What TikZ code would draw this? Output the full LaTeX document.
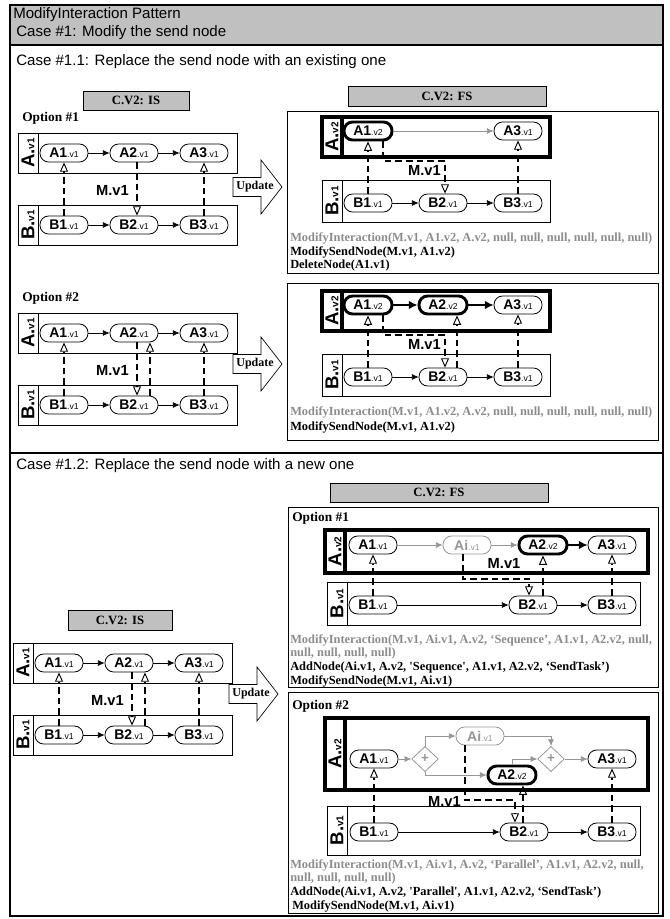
\documentclass[tikz,border=0pt]{standalone}
\usepackage{fontspec}
\setmainfont{Liberation Serif}
\newfontfamily\arial{Liberation Sans}
\usetikzlibrary{arrows.meta,shapes.geometric,calc}
\definecolor{hdr}{RGB}{192,192,192}
\definecolor{gl}{RGB}{150,150,150}
\definecolor{gt}{RGB}{140,140,140}
\newcommand\nl[2]{{\fontsize{10.5}{11}\selectfont\bfseries #1}{\fontsize{6.5}{7}\selectfont .#2}}
\newcommand\pn[2]{{\fontsize{14}{14}\selectfont #1.}{\fontsize{7.5}{8}\selectfont #2}}
\tikzset{
  task/.style={draw, rounded corners=6.5pt, fill=white, minimum width=36pt, minimum height=13.5pt, inner sep=1pt, line width=0.6pt, font=\arial},
  ttask/.style={task, line width=2.2pt},
  gtask/.style={task, draw=gl, text=gl},
  gw/.style={diamond, draw=gl, text=gl, fill=white, minimum width=20pt, minimum height=19pt, inner sep=0pt, line width=0.6pt, font=\arial\bfseries\fontsize{10}{10}\selectfont},
  seq/.style={line width=0.5pt, -{Latex[length=5pt,width=4.5pt]}},
  gseq/.style={seq, draw=gl},
  bseq/.style={line width=1.8pt, -{Latex[length=6.5pt,width=6.5pt]}},
  msg/.style={line width=1.5pt, dash pattern=on 5pt off 3pt, -{Triangle[open, length=7pt, width=6pt, line width=0.7pt]}},
  pool/.style={draw, line width=0.6pt},
  tpool/.style={draw, line width=2.6pt},
  pl/.style={rotate=90, font=\arial\bfseries, inner sep=0pt},
  lbl/.style={font=\arial\bfseries\fontsize{11}{12}\selectfont, inner sep=0pt},
  cmd/.style={font=\bfseries\fontsize{9.3}{10}\selectfont, anchor=west, inner sep=0pt},
  gcmd/.style={cmd, text=gt},
  opt/.style={font=\bfseries\fontsize{10}{12}\selectfont, anchor=west, inner sep=0pt},
  ttl/.style={font=\arial\fontsize{11.3}{13}\selectfont, anchor=west, inner sep=0pt},
  cbox/.style={font=\bfseries\fontsize{9.5}{11}\selectfont, inner sep=0pt},
}
\newcommand\upd[3]{%
  \draw[fill=white, line width=0.5pt] (#2,#3) ++(0,-9.5) -- ++(28,0) -- ++(0,-17.5) -- ++(21,27) -- ++(-21,27) -- ++(0,-17.5) -- ++(-28,0) -- cycle;
  \node[font=\bfseries\fontsize{9}{10}\selectfont, inner sep=0pt] (#1) at ({#2+22},#3) {Update};}
\begin{document}
\begin{tikzpicture}[x=0.75pt,y=-0.75pt]
\useasboundingbox (0,0) rectangle (669,919);
% frame and header
\draw[line width=0.8pt] (10,5) rectangle (663,916);
\draw[fill=hdr, line width=0.8pt] (10,5) rectangle (663,45);
\node[ttl] (h1) at (13,15) {ModifyInteraction Pattern};
\node[ttl] (h2) at (16,33) {Case \#1: Modify the send node};
\draw[line width=0.8pt] (10,453) -- (663,453);
\node[ttl] (c11) at (16,62) {Case \#1.1: Replace the send node with an existing one};
\node[ttl] (c12) at (16,466) {Case \#1.2: Replace the send node with a new one};
% state boxes
\draw[fill=hdr] (83,91) rectangle (189,110);
\node[cbox] (is1) at (136,100.5) {C.V2: IS};
\draw[fill=hdr] (348,86) rectangle (546,106);
\node[cbox] (fs1) at (447,96) {C.V2: FS};
\draw[fill=hdr] (330,483) rectangle (548,502);
\node[cbox] (fs2) at (439,492.5) {C.V2: FS};
\draw[fill=hdr] (68,610) rectangle (172,630);
\node[cbox] (is2) at (120,620) {C.V2: IS};
\node[opt] (o1) at (22,118) {Option \#1};
\node[opt] (o2) at (22,298) {Option \#2};
% ---------- left diagram, case 1.1 option 1
\draw[pool] (18,133) rectangle (237,173); \draw[pool] (18,133) rectangle (38,173);
\node[pl] (L1A) at (28,153) {\pn{A}{v1}};
\draw[pool] (18,205) rectangle (237,245); \draw[pool] (18,205) rectangle (38,245);
\node[pl] (L1B) at (28,225) {\pn{B}{v1}};
\node[task] (L1a1) at (64,153) {\nl{A1}{v1}};
\node[task] (L1a2) at (134,153) {\nl{A2}{v1}};
\node[task] (L1a3) at (204,153) {\nl{A3}{v1}};
\node[task] (L1b1) at (64,225) {\nl{B1}{v1}};
\node[task] (L1b2) at (134,225) {\nl{B2}{v1}};
\node[task] (L1b3) at (204,225) {\nl{B3}{v1}};
\draw[seq] (L1a1) -- (L1a2); \draw[seq] (L1a2) -- (L1a3);
\draw[seq] (L1b1) -- (L1b2); \draw[seq] (L1b2) -- (L1b3);
\draw[msg] (L1b1) -- (L1a1);
\draw[msg] ($(L1a2.south)+(3,0)$) -- ($(L1b2.north)+(3,0)$);
\draw[msg] (L1b3) -- (L1a3);
\node[lbl, anchor=east] (L1m) at (129,190) {M.v1};
\upd{U1}{233}{187}
% ---------- left diagram, case 1.1 option 2
\begin{scope}[shift={(0,180)}]
\draw[pool] (18,133) rectangle (237,173); \draw[pool] (18,133) rectangle (38,173);
\node[pl] (L2A) at (28,153) {\pn{A}{v1}};
\draw[pool] (18,205) rectangle (237,245); \draw[pool] (18,205) rectangle (38,245);
\node[pl] (L2B) at (28,225) {\pn{B}{v1}};
\node[task] (L2a1) at (64,153) {\nl{A1}{v1}};
\node[task] (L2a2) at (134,153) {\nl{A2}{v1}};
\node[task] (L2a3) at (204,153) {\nl{A3}{v1}};
\node[task] (L2b1) at (64,225) {\nl{B1}{v1}};
\node[task] (L2b2) at (134,225) {\nl{B2}{v1}};
\node[task] (L2b3) at (204,225) {\nl{B3}{v1}};
\draw[seq] (L2a1) -- (L2a2); \draw[seq] (L2a2) -- (L2a3);
\draw[seq] (L2b1) -- (L2b2); \draw[seq] (L2b2) -- (L2b3);
\draw[msg] (L2b1) -- (L2a1);
\draw[msg] ($(L2a2.south)+(3,0)$) -- ($(L2b2.north)+(3,0)$);
\draw[msg] ($(L2b2.north)+(16,0)$) -- ($(L2a2.south)+(16,0)$);
\draw[msg] (L2b3) -- (L2a3);
\node[lbl, anchor=east] (L2m) at (129,190) {M.v1};
\upd{U2}{233}{184}
\end{scope}
% ---------- left diagram, case 1.2
\begin{scope}[shift={(-5,510)}]
\draw[pool] (18,133) rectangle (237,173); \draw[pool] (18,133) rectangle (38,173);
\node[pl] (L3A) at (28,153) {\pn{A}{v1}};
\draw[pool] (18,205) rectangle (237,245); \draw[pool] (18,205) rectangle (38,245);
\node[pl] (L3B) at (28,225) {\pn{B}{v1}};
\node[task] (L3a1) at (64,153) {\nl{A1}{v1}};
\node[task] (L3a2) at (134,153) {\nl{A2}{v1}};
\node[task] (L3a3) at (204,153) {\nl{A3}{v1}};
\node[task] (L3b1) at (64,225) {\nl{B1}{v1}};
\node[task] (L3b2) at (134,225) {\nl{B2}{v1}};
\node[task] (L3b3) at (204,225) {\nl{B3}{v1}};
\draw[seq] (L3a1) -- (L3a2); \draw[seq] (L3a2) -- (L3a3);
\draw[seq] (L3b1) -- (L3b2); \draw[seq] (L3b2) -- (L3b3);
\draw[msg] (L3b1) -- (L3a1);
\draw[msg] ($(L3a2.south)+(3,0)$) -- ($(L3b2.north)+(3,0)$);
\draw[msg] ($(L3b2.north)+(16,0)$) -- ($(L3a2.south)+(16,0)$);
\draw[msg] (L3b3) -- (L3a3);
\node[lbl, anchor=east] (L3m) at (129,190) {M.v1};
\upd{U3}{234}{184}
\end{scope}
% ---------- right panels case 1.1
\draw[line width=0.6pt] (287,111) rectangle (658,273);
\draw[line width=0.6pt] (287,283) rectangle (658,440);
% option 1
\draw[tpool] (322,117) rectangle (550,157); \draw[tpool] (322,117) rectangle (342,157);
\node[pl] (R1A) at (332,137) {\pn{A}{v2}};
\draw[pool] (322,180) rectangle (550,222); \draw[pool] (322,180) rectangle (342,222);
\node[pl] (R1B) at (332,201) {\pn{B}{v1}};
\node[ttask] (R1a1) at (368,131) {\nl{A1}{v2}};
\node[task] (R1a3) at (518,131) {\nl{A3}{v1}};
\node[task] (R1b1) at (368,203) {\nl{B1}{v1}};
\node[task] (R1b2) at (443,203) {\nl{B2}{v1}};
\node[task] (R1b3) at (518,203) {\nl{B3}{v1}};
\draw[gseq] (R1a1) -- (R1a3);
\draw[seq] (R1b1) -- (R1b2); \draw[seq] (R1b2) -- (R1b3);
\draw[msg] (R1b1) -- (R1a1);
\draw[msg] (R1b3) -- (R1a3);
\coordinate (R1m) at (445,161);
\draw[msg] ($(R1a1.south)+(15,0)$) |- (R1m) -- ($(R1b2.north)+(2,0)$);
\node[lbl, anchor=east] (R1ml) at (441,170) {M.v1};
\node[gcmd] (R1t1) at (290,238) {ModifyInteraction(M.v1, A1.v2, A.v2, null, null, null, null, null, null)};
\node[cmd] (R1t2) at (290,252) {ModifySendNode(M.v1, A1.v2)};
\node[cmd] (R1t3) at (290,266) {DeleteNode(A1.v1)};
% option 2
\begin{scope}[shift={(0,174)}]
\draw[tpool] (322,117) rectangle (550,157); \draw[tpool] (322,117) rectangle (342,157);
\node[pl] (R2A) at (332,137) {\pn{A}{v2}};
\draw[pool] (322,180) rectangle (550,222); \draw[pool] (322,180) rectangle (342,222);
\node[pl] (R2B) at (332,201) {\pn{B}{v1}};
\node[ttask] (R2a1) at (368,131) {\nl{A1}{v2}};
\node[ttask] (R2a2) at (443,131) {\nl{A2}{v2}};
\node[task] (R2a3) at (518,131) {\nl{A3}{v1}};
\node[task] (R2b1) at (368,203) {\nl{B1}{v1}};
\node[task] (R2b2) at (443,203) {\nl{B2}{v1}};
\node[task] (R2b3) at (518,203) {\nl{B3}{v1}};
\draw[bseq] (R2a1) -- (R2a2); \draw[bseq] (R2a2) -- (R2a3);
\draw[seq] (R2b1) -- (R2b2); \draw[seq] (R2b2) -- (R2b3);
\draw[msg] (R2b1) -- (R2a1);
\draw[msg] (R2b3) -- (R2a3);
\draw[msg] ($(R2b2.north)+(14,0)$) -- ($(R2a2.south)+(14,0)$);
\coordinate (R2m) at (445,161);
\draw[msg] ($(R2a1.south)+(15,0)$) |- (R2m) -- ($(R2b2.north)+(2,0)$);
\node[lbl, anchor=east] (R2ml) at (441,170) {M.v1};
\node[gcmd] (R2t1) at (290,238) {ModifyInteraction(M.v1, A1.v2, A.v2, null, null, null, null, null, null)};
\node[cmd] (R2t2) at (290,253) {ModifySendNode(M.v1, A1.v2)};
\end{scope}
% ---------- right panels case 1.2
\draw[line width=0.6pt] (288,507) rectangle (658,687);
\draw[line width=0.6pt] (288,692) rectangle (658,913);
% option 1
\node[opt] (S1o) at (292,518) {Option \#1};
\draw[tpool] (325,530) rectangle (648,573); \draw[tpool] (325,530) rectangle (345,573);
\node[pl] (S1A) at (335,551.5) {\pn{A}{v2}};
\draw[pool] (327,582) rectangle (640,625); \draw[pool] (327,582) rectangle (347,625);
\node[pl] (S1B) at (337,603.5) {\pn{B}{v1}};
\node[task] (S1a1) at (373,545) {\nl{A1}{v1}};
\node[gtask] (S1ai) at (467,545) {\nl{Ai}{v1}};
\node[ttask] (S1a2) at (543,545) {\nl{A2}{v2}};
\node[task] (S1a3) at (612,545) {\nl{A3}{v1}};
\node[task] (S1b1) at (373,605) {\nl{B1}{v1}};
\node[task] (S1b2) at (533,605) {\nl{B2}{v1}};
\node[task] (S1b3) at (612,605) {\nl{B3}{v1}};
\draw[gseq] (S1a1) -- (S1ai); \draw[gseq] (S1ai) -- (S1a2);
\draw[bseq] (S1a2) -- (S1a3);
\draw[seq] (S1b1) -- (S1b2); \draw[seq] (S1b2) -- (S1b3);
\draw[msg] (S1b1) -- (S1a1);
\draw[msg] (S1b3) -- (S1a3);
\draw[msg] ($(S1b2.north)+(10,0)$) -- (S1a2.south);
\coordinate (S1m) at (529,579);
\draw[msg] ($(S1ai.south)+(-4,0)$) |- (S1m) -- ($(S1b2.north)+(-4,0)$);
\node[lbl] (S1ml) at (504,563) {M.v1};
\node[gcmd] (S1t1) at (290,640) {ModifyInteraction(M.v1, Ai.v1, A.v2, ‘Sequence’, A1.v1, A2.v2, null,};
\node[gcmd] (S1t2) at (290,654) {null, null, null, null)};
\node[cmd] (S1t3) at (290,668) {AddNode(Ai.v1, A.v2, \textquotesingle Sequence\textquotesingle, A1.v1, A2.v2, ‘SendTask’)};
\node[cmd] (S1t4) at (290,681) {ModifySendNode(M.v1, Ai.v1)};
% option 2
\node[opt] (S2o) at (292,706) {Option \#2};
\draw[tpool] (325,718) rectangle (648,790); \draw[tpool] (325,718) rectangle (345,790);
\node[pl] (S2A) at (335,754) {\pn{A}{v2}};
\draw[pool] (327,806) rectangle (640,855); \draw[pool] (327,806) rectangle (347,855);
\node[pl] (S2B) at (337,830.5) {\pn{B}{v1}};
\node[task] (S2a1) at (374,759) {\nl{A1}{v1}};
\node[gw] (S2g1) at (425,759) {+};
\node[gtask] (S2ai) at (480,736) {\nl{Ai}{v1}};
\node[ttask] (S2a2) at (512,775) {\nl{A2}{v2}};
\node[gw] (S2g2) at (551,759) {+};
\node[task] (S2a3) at (612,759) {\nl{A3}{v1}};
\node[task] (S2b1) at (374,832) {\nl{B1}{v1}};
\node[task] (S2b2) at (524,832) {\nl{B2}{v1}};
\node[task] (S2b3) at (612,832) {\nl{B3}{v1}};
\draw[gseq] (S2a1) -- (S2g1);
\draw[gseq] (S2g1.north) |- (S2ai.west);
\draw[gseq] (S2g1.south) |- (S2a2.west);
\draw[gseq] (S2ai.east) -| (S2g2.north);
\draw[gseq] (S2a2.north) |- (S2g2.west);
\draw[gseq] (S2g2) -- (S2a3);
\draw[seq] (S2b1) -- (S2b2); \draw[seq] (S2b2) -- (S2b3);
\draw[msg] (S2b1) -- (S2a1);
\draw[msg] (S2b3) -- (S2a3);
\draw[msg] ($(S2b2.north)+(-1,0)$) -- ($(S2a2.south)+(11,0)$);
\coordinate (S2m) at (515,800);
\draw[msg] ($(S2ai.south)+(-15,0)$) |- (S2m) -- ($(S2b2.north)+(-9,0)$);
\node[lbl, anchor=east] (S2ml) at (461,801) {M.v1};
\node[gcmd] (S2t1) at (290,865) {ModifyInteraction(M.v1, Ai.v1, A.v2, ‘Parallel’, A1.v1, A2.v2, null,};
\node[gcmd] (S2t2) at (290,879) {null, null, null, null)};
\node[cmd] (S2t3) at (290,893) {AddNode(Ai.v1, A.v2, \textquotesingle Parallel\textquotesingle, A1.v1, A2.v2, ‘SendTask’)};
\node[cmd] (S2t4) at (292,906) {ModifySendNode(M.v1, Ai.v1)};
\end{tikzpicture}
\end{document}
